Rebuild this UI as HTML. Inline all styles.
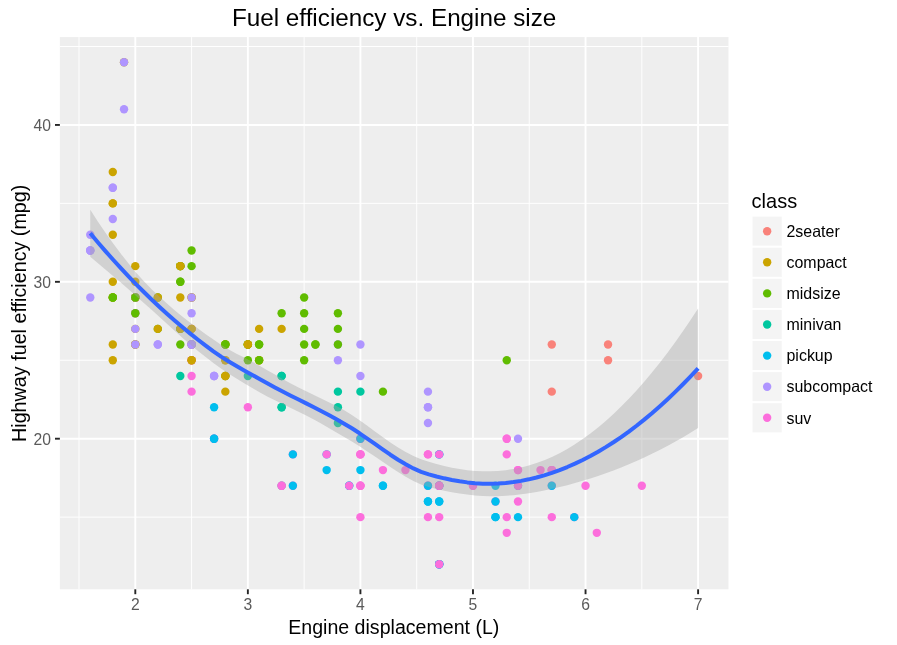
<!DOCTYPE html>
<html><head><meta charset="utf-8"><style>
html,body{margin:0;padding:0;background:#fff;overflow:hidden;}
svg{display:block;will-change:transform;}
text{font-family:"Liberation Sans",sans-serif;}
</style></head><body>
<svg width="897" height="645" viewBox="0 0 897 645">
<rect x="0" y="0" width="897" height="645" fill="#FFFFFF"/>
<rect x="59.88" y="37.09" width="668.61" height="552.22" fill="#EEEEEE"/>
<line x1="79.02" y1="37.09" x2="79.02" y2="589.30" stroke="#fff" stroke-width="0.95"/>
<line x1="191.58" y1="37.09" x2="191.58" y2="589.30" stroke="#fff" stroke-width="0.95"/>
<line x1="304.14" y1="37.09" x2="304.14" y2="589.30" stroke="#fff" stroke-width="0.95"/>
<line x1="416.70" y1="37.09" x2="416.70" y2="589.30" stroke="#fff" stroke-width="0.95"/>
<line x1="529.26" y1="37.09" x2="529.26" y2="589.30" stroke="#fff" stroke-width="0.95"/>
<line x1="641.82" y1="37.09" x2="641.82" y2="589.30" stroke="#fff" stroke-width="0.95"/>
<line x1="59.88" y1="517.14" x2="728.49" y2="517.14" stroke="#fff" stroke-width="0.95"/>
<line x1="59.88" y1="360.26" x2="728.49" y2="360.26" stroke="#fff" stroke-width="0.95"/>
<line x1="59.88" y1="203.38" x2="728.49" y2="203.38" stroke="#fff" stroke-width="0.95"/>
<line x1="59.88" y1="46.50" x2="728.49" y2="46.50" stroke="#fff" stroke-width="0.95"/>
<line x1="135.30" y1="37.09" x2="135.30" y2="589.30" stroke="#fff" stroke-width="1.9"/>
<line x1="247.86" y1="37.09" x2="247.86" y2="589.30" stroke="#fff" stroke-width="1.9"/>
<line x1="360.42" y1="37.09" x2="360.42" y2="589.30" stroke="#fff" stroke-width="1.9"/>
<line x1="472.98" y1="37.09" x2="472.98" y2="589.30" stroke="#fff" stroke-width="1.9"/>
<line x1="585.54" y1="37.09" x2="585.54" y2="589.30" stroke="#fff" stroke-width="1.9"/>
<line x1="698.10" y1="37.09" x2="698.10" y2="589.30" stroke="#fff" stroke-width="1.9"/>
<line x1="59.88" y1="438.70" x2="728.49" y2="438.70" stroke="#fff" stroke-width="1.9"/>
<line x1="59.88" y1="281.82" x2="728.49" y2="281.82" stroke="#fff" stroke-width="1.9"/>
<line x1="59.88" y1="124.94" x2="728.49" y2="124.94" stroke="#fff" stroke-width="1.9"/>
<circle cx="112.79" cy="297.51" r="4.2" fill="#CBA400"/>
<circle cx="112.79" cy="297.51" r="4.2" fill="#CBA400"/>
<circle cx="135.30" cy="266.13" r="4.2" fill="#CBA400"/>
<circle cx="135.30" cy="281.82" r="4.2" fill="#CBA400"/>
<circle cx="225.35" cy="344.57" r="4.2" fill="#CBA400"/>
<circle cx="225.35" cy="344.57" r="4.2" fill="#CBA400"/>
<circle cx="259.12" cy="328.88" r="4.2" fill="#CBA400"/>
<circle cx="112.79" cy="344.57" r="4.2" fill="#CBA400"/>
<circle cx="112.79" cy="360.26" r="4.2" fill="#CBA400"/>
<circle cx="135.30" cy="313.20" r="4.2" fill="#CBA400"/>
<circle cx="135.30" cy="328.88" r="4.2" fill="#CBA400"/>
<circle cx="225.35" cy="360.26" r="4.2" fill="#CBA400"/>
<circle cx="225.35" cy="360.26" r="4.2" fill="#CBA400"/>
<circle cx="259.12" cy="360.26" r="4.2" fill="#CBA400"/>
<circle cx="259.12" cy="360.26" r="4.2" fill="#CBA400"/>
<circle cx="225.35" cy="375.95" r="4.2" fill="#60BC00"/>
<circle cx="259.12" cy="360.26" r="4.2" fill="#60BC00"/>
<circle cx="382.93" cy="391.64" r="4.2" fill="#60BC00"/>
<circle cx="506.75" cy="438.70" r="4.2" fill="#FC6EDC"/>
<circle cx="506.75" cy="517.14" r="4.2" fill="#FC6EDC"/>
<circle cx="506.75" cy="438.70" r="4.2" fill="#FC6EDC"/>
<circle cx="551.77" cy="485.76" r="4.2" fill="#FC6EDC"/>
<circle cx="585.54" cy="485.76" r="4.2" fill="#FC6EDC"/>
<circle cx="551.77" cy="344.57" r="4.2" fill="#F9827A"/>
<circle cx="551.77" cy="391.64" r="4.2" fill="#F9827A"/>
<circle cx="608.05" cy="344.57" r="4.2" fill="#F9827A"/>
<circle cx="608.05" cy="360.26" r="4.2" fill="#F9827A"/>
<circle cx="698.10" cy="375.95" r="4.2" fill="#F9827A"/>
<circle cx="506.75" cy="454.39" r="4.2" fill="#FC6EDC"/>
<circle cx="506.75" cy="532.83" r="4.2" fill="#FC6EDC"/>
<circle cx="551.77" cy="517.14" r="4.2" fill="#FC6EDC"/>
<circle cx="641.82" cy="485.76" r="4.2" fill="#FC6EDC"/>
<circle cx="180.32" cy="328.88" r="4.2" fill="#60BC00"/>
<circle cx="180.32" cy="281.82" r="4.2" fill="#60BC00"/>
<circle cx="259.12" cy="344.57" r="4.2" fill="#60BC00"/>
<circle cx="304.14" cy="297.51" r="4.2" fill="#60BC00"/>
<circle cx="315.40" cy="344.57" r="4.2" fill="#60BC00"/>
<circle cx="180.32" cy="375.95" r="4.2" fill="#00C79F"/>
<circle cx="247.86" cy="375.95" r="4.2" fill="#00C79F"/>
<circle cx="281.63" cy="407.32" r="4.2" fill="#00C79F"/>
<circle cx="281.63" cy="407.32" r="4.2" fill="#00C79F"/>
<circle cx="281.63" cy="375.95" r="4.2" fill="#00C79F"/>
<circle cx="281.63" cy="375.95" r="4.2" fill="#00C79F"/>
<circle cx="281.63" cy="485.76" r="4.2" fill="#00C79F"/>
<circle cx="337.91" cy="407.32" r="4.2" fill="#00C79F"/>
<circle cx="337.91" cy="423.01" r="4.2" fill="#00C79F"/>
<circle cx="337.91" cy="391.64" r="4.2" fill="#00C79F"/>
<circle cx="360.42" cy="391.64" r="4.2" fill="#00C79F"/>
<circle cx="326.65" cy="454.39" r="4.2" fill="#00BEEE"/>
<circle cx="326.65" cy="470.08" r="4.2" fill="#00BEEE"/>
<circle cx="349.16" cy="485.76" r="4.2" fill="#00BEEE"/>
<circle cx="349.16" cy="485.76" r="4.2" fill="#00BEEE"/>
<circle cx="439.21" cy="454.39" r="4.2" fill="#00BEEE"/>
<circle cx="439.21" cy="454.39" r="4.2" fill="#00BEEE"/>
<circle cx="439.21" cy="564.20" r="4.2" fill="#00BEEE"/>
<circle cx="495.49" cy="485.76" r="4.2" fill="#00BEEE"/>
<circle cx="495.49" cy="517.14" r="4.2" fill="#00BEEE"/>
<circle cx="349.16" cy="485.76" r="4.2" fill="#FC6EDC"/>
<circle cx="439.21" cy="485.76" r="4.2" fill="#FC6EDC"/>
<circle cx="439.21" cy="564.20" r="4.2" fill="#FC6EDC"/>
<circle cx="439.21" cy="485.76" r="4.2" fill="#FC6EDC"/>
<circle cx="495.49" cy="501.45" r="4.2" fill="#FC6EDC"/>
<circle cx="551.77" cy="470.08" r="4.2" fill="#FC6EDC"/>
<circle cx="574.28" cy="517.14" r="4.2" fill="#FC6EDC"/>
<circle cx="439.21" cy="501.45" r="4.2" fill="#00BEEE"/>
<circle cx="439.21" cy="564.20" r="4.2" fill="#00BEEE"/>
<circle cx="439.21" cy="485.76" r="4.2" fill="#00BEEE"/>
<circle cx="439.21" cy="485.76" r="4.2" fill="#00BEEE"/>
<circle cx="439.21" cy="501.45" r="4.2" fill="#00BEEE"/>
<circle cx="439.21" cy="564.20" r="4.2" fill="#00BEEE"/>
<circle cx="495.49" cy="517.14" r="4.2" fill="#00BEEE"/>
<circle cx="495.49" cy="501.45" r="4.2" fill="#00BEEE"/>
<circle cx="551.77" cy="485.76" r="4.2" fill="#00BEEE"/>
<circle cx="574.28" cy="517.14" r="4.2" fill="#00BEEE"/>
<circle cx="427.96" cy="485.76" r="4.2" fill="#FC6EDC"/>
<circle cx="427.96" cy="485.76" r="4.2" fill="#FC6EDC"/>
<circle cx="518.00" cy="470.08" r="4.2" fill="#FC6EDC"/>
<circle cx="360.42" cy="485.76" r="4.2" fill="#FC6EDC"/>
<circle cx="360.42" cy="454.39" r="4.2" fill="#FC6EDC"/>
<circle cx="360.42" cy="485.76" r="4.2" fill="#FC6EDC"/>
<circle cx="360.42" cy="454.39" r="4.2" fill="#FC6EDC"/>
<circle cx="427.96" cy="454.39" r="4.2" fill="#FC6EDC"/>
<circle cx="472.98" cy="485.76" r="4.2" fill="#FC6EDC"/>
<circle cx="382.93" cy="485.76" r="4.2" fill="#00BEEE"/>
<circle cx="382.93" cy="485.76" r="4.2" fill="#00BEEE"/>
<circle cx="427.96" cy="501.45" r="4.2" fill="#00BEEE"/>
<circle cx="427.96" cy="501.45" r="4.2" fill="#00BEEE"/>
<circle cx="427.96" cy="485.76" r="4.2" fill="#00BEEE"/>
<circle cx="518.00" cy="517.14" r="4.2" fill="#00BEEE"/>
<circle cx="518.00" cy="485.76" r="4.2" fill="#00BEEE"/>
<circle cx="337.91" cy="344.57" r="4.2" fill="#AF95FF"/>
<circle cx="337.91" cy="360.26" r="4.2" fill="#AF95FF"/>
<circle cx="360.42" cy="344.57" r="4.2" fill="#AF95FF"/>
<circle cx="360.42" cy="375.95" r="4.2" fill="#AF95FF"/>
<circle cx="427.96" cy="423.01" r="4.2" fill="#AF95FF"/>
<circle cx="427.96" cy="407.32" r="4.2" fill="#AF95FF"/>
<circle cx="427.96" cy="391.64" r="4.2" fill="#AF95FF"/>
<circle cx="427.96" cy="407.32" r="4.2" fill="#AF95FF"/>
<circle cx="518.00" cy="438.70" r="4.2" fill="#AF95FF"/>
<circle cx="90.28" cy="234.76" r="4.2" fill="#AF95FF"/>
<circle cx="90.28" cy="250.44" r="4.2" fill="#AF95FF"/>
<circle cx="90.28" cy="250.44" r="4.2" fill="#AF95FF"/>
<circle cx="90.28" cy="297.51" r="4.2" fill="#AF95FF"/>
<circle cx="90.28" cy="250.44" r="4.2" fill="#AF95FF"/>
<circle cx="112.79" cy="219.07" r="4.2" fill="#AF95FF"/>
<circle cx="112.79" cy="187.69" r="4.2" fill="#AF95FF"/>
<circle cx="112.79" cy="187.69" r="4.2" fill="#AF95FF"/>
<circle cx="135.30" cy="297.51" r="4.2" fill="#AF95FF"/>
<circle cx="180.32" cy="344.57" r="4.2" fill="#60BC00"/>
<circle cx="180.32" cy="328.88" r="4.2" fill="#60BC00"/>
<circle cx="180.32" cy="281.82" r="4.2" fill="#60BC00"/>
<circle cx="180.32" cy="266.13" r="4.2" fill="#60BC00"/>
<circle cx="191.58" cy="344.57" r="4.2" fill="#60BC00"/>
<circle cx="191.58" cy="344.57" r="4.2" fill="#60BC00"/>
<circle cx="281.63" cy="313.20" r="4.2" fill="#60BC00"/>
<circle cx="135.30" cy="344.57" r="4.2" fill="#AF95FF"/>
<circle cx="135.30" cy="297.51" r="4.2" fill="#AF95FF"/>
<circle cx="135.30" cy="313.20" r="4.2" fill="#AF95FF"/>
<circle cx="135.30" cy="328.88" r="4.2" fill="#AF95FF"/>
<circle cx="214.09" cy="375.95" r="4.2" fill="#AF95FF"/>
<circle cx="214.09" cy="375.95" r="4.2" fill="#AF95FF"/>
<circle cx="214.09" cy="375.95" r="4.2" fill="#AF95FF"/>
<circle cx="247.86" cy="407.32" r="4.2" fill="#FC6EDC"/>
<circle cx="326.65" cy="454.39" r="4.2" fill="#FC6EDC"/>
<circle cx="360.42" cy="438.70" r="4.2" fill="#FC6EDC"/>
<circle cx="439.21" cy="485.76" r="4.2" fill="#FC6EDC"/>
<circle cx="439.21" cy="564.20" r="4.2" fill="#FC6EDC"/>
<circle cx="439.21" cy="454.39" r="4.2" fill="#FC6EDC"/>
<circle cx="551.77" cy="470.08" r="4.2" fill="#FC6EDC"/>
<circle cx="596.80" cy="532.83" r="4.2" fill="#FC6EDC"/>
<circle cx="360.42" cy="517.14" r="4.2" fill="#FC6EDC"/>
<circle cx="382.93" cy="470.08" r="4.2" fill="#FC6EDC"/>
<circle cx="405.44" cy="470.08" r="4.2" fill="#FC6EDC"/>
<circle cx="427.96" cy="517.14" r="4.2" fill="#FC6EDC"/>
<circle cx="518.00" cy="485.76" r="4.2" fill="#FC6EDC"/>
<circle cx="518.00" cy="501.45" r="4.2" fill="#FC6EDC"/>
<circle cx="518.00" cy="470.08" r="4.2" fill="#FC6EDC"/>
<circle cx="360.42" cy="485.76" r="4.2" fill="#FC6EDC"/>
<circle cx="360.42" cy="454.39" r="4.2" fill="#FC6EDC"/>
<circle cx="427.96" cy="454.39" r="4.2" fill="#FC6EDC"/>
<circle cx="472.98" cy="485.76" r="4.2" fill="#FC6EDC"/>
<circle cx="180.32" cy="297.51" r="4.2" fill="#CBA400"/>
<circle cx="180.32" cy="328.88" r="4.2" fill="#CBA400"/>
<circle cx="191.58" cy="266.13" r="4.2" fill="#60BC00"/>
<circle cx="191.58" cy="250.44" r="4.2" fill="#60BC00"/>
<circle cx="304.14" cy="328.88" r="4.2" fill="#60BC00"/>
<circle cx="304.14" cy="344.57" r="4.2" fill="#60BC00"/>
<circle cx="247.86" cy="344.57" r="4.2" fill="#60BC00"/>
<circle cx="247.86" cy="360.26" r="4.2" fill="#60BC00"/>
<circle cx="304.14" cy="360.26" r="4.2" fill="#60BC00"/>
<circle cx="281.63" cy="485.76" r="4.2" fill="#FC6EDC"/>
<circle cx="281.63" cy="485.76" r="4.2" fill="#FC6EDC"/>
<circle cx="360.42" cy="438.70" r="4.2" fill="#FC6EDC"/>
<circle cx="540.52" cy="470.08" r="4.2" fill="#FC6EDC"/>
<circle cx="259.12" cy="344.57" r="4.2" fill="#60BC00"/>
<circle cx="337.91" cy="344.57" r="4.2" fill="#60BC00"/>
<circle cx="337.91" cy="328.88" r="4.2" fill="#60BC00"/>
<circle cx="337.91" cy="313.20" r="4.2" fill="#60BC00"/>
<circle cx="506.75" cy="360.26" r="4.2" fill="#60BC00"/>
<circle cx="191.58" cy="360.26" r="4.2" fill="#FC6EDC"/>
<circle cx="191.58" cy="375.95" r="4.2" fill="#FC6EDC"/>
<circle cx="191.58" cy="328.88" r="4.2" fill="#FC6EDC"/>
<circle cx="191.58" cy="360.26" r="4.2" fill="#FC6EDC"/>
<circle cx="191.58" cy="344.57" r="4.2" fill="#FC6EDC"/>
<circle cx="191.58" cy="391.64" r="4.2" fill="#FC6EDC"/>
<circle cx="157.81" cy="344.57" r="4.2" fill="#AF95FF"/>
<circle cx="157.81" cy="344.57" r="4.2" fill="#AF95FF"/>
<circle cx="191.58" cy="344.57" r="4.2" fill="#AF95FF"/>
<circle cx="191.58" cy="344.57" r="4.2" fill="#AF95FF"/>
<circle cx="191.58" cy="360.26" r="4.2" fill="#CBA400"/>
<circle cx="191.58" cy="328.88" r="4.2" fill="#CBA400"/>
<circle cx="191.58" cy="360.26" r="4.2" fill="#CBA400"/>
<circle cx="191.58" cy="328.88" r="4.2" fill="#CBA400"/>
<circle cx="214.09" cy="438.70" r="4.2" fill="#FC6EDC"/>
<circle cx="214.09" cy="438.70" r="4.2" fill="#FC6EDC"/>
<circle cx="292.88" cy="454.39" r="4.2" fill="#FC6EDC"/>
<circle cx="292.88" cy="485.76" r="4.2" fill="#FC6EDC"/>
<circle cx="360.42" cy="438.70" r="4.2" fill="#FC6EDC"/>
<circle cx="439.21" cy="485.76" r="4.2" fill="#FC6EDC"/>
<circle cx="157.81" cy="297.51" r="4.2" fill="#60BC00"/>
<circle cx="157.81" cy="328.88" r="4.2" fill="#60BC00"/>
<circle cx="180.32" cy="266.13" r="4.2" fill="#60BC00"/>
<circle cx="180.32" cy="266.13" r="4.2" fill="#60BC00"/>
<circle cx="247.86" cy="344.57" r="4.2" fill="#60BC00"/>
<circle cx="247.86" cy="344.57" r="4.2" fill="#60BC00"/>
<circle cx="304.14" cy="313.20" r="4.2" fill="#60BC00"/>
<circle cx="157.81" cy="328.88" r="4.2" fill="#CBA400"/>
<circle cx="157.81" cy="297.51" r="4.2" fill="#CBA400"/>
<circle cx="180.32" cy="266.13" r="4.2" fill="#CBA400"/>
<circle cx="180.32" cy="266.13" r="4.2" fill="#CBA400"/>
<circle cx="247.86" cy="344.57" r="4.2" fill="#CBA400"/>
<circle cx="247.86" cy="344.57" r="4.2" fill="#CBA400"/>
<circle cx="281.63" cy="328.88" r="4.2" fill="#CBA400"/>
<circle cx="112.79" cy="281.82" r="4.2" fill="#CBA400"/>
<circle cx="112.79" cy="234.76" r="4.2" fill="#CBA400"/>
<circle cx="112.79" cy="203.38" r="4.2" fill="#CBA400"/>
<circle cx="112.79" cy="172.00" r="4.2" fill="#CBA400"/>
<circle cx="112.79" cy="203.38" r="4.2" fill="#CBA400"/>
<circle cx="439.21" cy="517.14" r="4.2" fill="#FC6EDC"/>
<circle cx="551.77" cy="470.08" r="4.2" fill="#FC6EDC"/>
<circle cx="214.09" cy="438.70" r="4.2" fill="#00BEEE"/>
<circle cx="214.09" cy="438.70" r="4.2" fill="#00BEEE"/>
<circle cx="214.09" cy="407.32" r="4.2" fill="#00BEEE"/>
<circle cx="292.88" cy="485.76" r="4.2" fill="#00BEEE"/>
<circle cx="292.88" cy="454.39" r="4.2" fill="#00BEEE"/>
<circle cx="360.42" cy="470.08" r="4.2" fill="#00BEEE"/>
<circle cx="360.42" cy="438.70" r="4.2" fill="#00BEEE"/>
<circle cx="135.30" cy="297.51" r="4.2" fill="#CBA400"/>
<circle cx="135.30" cy="344.57" r="4.2" fill="#CBA400"/>
<circle cx="135.30" cy="297.51" r="4.2" fill="#CBA400"/>
<circle cx="135.30" cy="297.51" r="4.2" fill="#CBA400"/>
<circle cx="225.35" cy="375.95" r="4.2" fill="#CBA400"/>
<circle cx="124.04" cy="62.19" r="4.2" fill="#CBA400"/>
<circle cx="135.30" cy="297.51" r="4.2" fill="#CBA400"/>
<circle cx="135.30" cy="344.57" r="4.2" fill="#CBA400"/>
<circle cx="135.30" cy="297.51" r="4.2" fill="#CBA400"/>
<circle cx="135.30" cy="297.51" r="4.2" fill="#CBA400"/>
<circle cx="191.58" cy="297.51" r="4.2" fill="#CBA400"/>
<circle cx="191.58" cy="297.51" r="4.2" fill="#CBA400"/>
<circle cx="225.35" cy="391.64" r="4.2" fill="#CBA400"/>
<circle cx="225.35" cy="375.95" r="4.2" fill="#CBA400"/>
<circle cx="124.04" cy="62.19" r="4.2" fill="#AF95FF"/>
<circle cx="124.04" cy="109.25" r="4.2" fill="#AF95FF"/>
<circle cx="135.30" cy="297.51" r="4.2" fill="#AF95FF"/>
<circle cx="135.30" cy="344.57" r="4.2" fill="#AF95FF"/>
<circle cx="191.58" cy="313.20" r="4.2" fill="#AF95FF"/>
<circle cx="191.58" cy="297.51" r="4.2" fill="#AF95FF"/>
<circle cx="112.79" cy="297.51" r="4.2" fill="#60BC00"/>
<circle cx="112.79" cy="297.51" r="4.2" fill="#60BC00"/>
<circle cx="135.30" cy="313.20" r="4.2" fill="#60BC00"/>
<circle cx="135.30" cy="297.51" r="4.2" fill="#60BC00"/>
<circle cx="225.35" cy="344.57" r="4.2" fill="#60BC00"/>
<circle cx="225.35" cy="344.57" r="4.2" fill="#60BC00"/>
<circle cx="315.40" cy="344.57" r="4.2" fill="#60BC00"/>
<polygon points="90.28,209.82 97.97,221.63 105.66,232.98 113.36,243.81 121.05,254.08 128.75,263.76 136.44,272.88 144.13,281.41 151.83,289.38 159.52,296.83 167.22,303.83 174.91,310.46 182.60,316.78 190.30,322.80 197.99,328.57 205.69,334.13 213.38,339.57 221.07,344.74 228.77,349.42 236.46,353.66 244.16,357.60 251.85,361.52 259.54,365.73 267.24,370.18 274.93,374.61 282.63,378.96 290.32,383.17 298.01,387.21 305.71,391.07 313.40,394.80 321.10,398.47 328.79,402.19 336.48,406.11 344.18,410.35 351.87,415.03 359.57,420.22 367.26,425.77 374.95,431.45 382.65,437.07 390.34,442.45 398.03,447.45 405.73,451.97 413.42,455.91 421.12,459.21 428.81,461.80 436.50,463.97 444.20,465.93 451.89,467.64 459.59,469.06 467.28,470.17 474.97,470.93 482.67,471.34 490.36,471.36 498.06,470.99 505.75,470.21 513.44,469.02 521.14,467.43 528.83,465.44 536.53,463.03 544.22,460.18 551.91,456.88 559.61,453.13 567.30,448.92 575.00,444.25 582.69,439.12 590.38,433.53 598.08,427.47 605.77,420.96 613.47,414.00 621.16,406.59 628.85,398.74 636.55,390.45 644.24,381.72 651.94,372.55 659.63,362.96 667.32,352.93 675.02,342.49 682.71,331.62 690.41,320.33 698.10,308.62 698.10,428.05 690.41,432.81 682.71,437.39 675.02,441.78 667.32,445.98 659.63,450.00 651.94,453.85 644.24,457.51 636.55,461.01 628.85,464.33 621.16,467.49 613.47,470.48 605.77,473.31 598.08,475.98 590.38,478.50 582.69,480.87 575.00,483.09 567.30,485.16 559.61,487.08 551.91,488.86 544.22,490.47 536.53,491.92 528.83,493.19 521.14,494.28 513.44,495.15 505.75,495.81 498.06,496.17 490.36,496.22 482.67,495.96 474.97,495.41 467.28,494.61 459.59,493.55 451.89,492.25 444.20,490.71 436.50,488.95 428.81,486.94 421.12,484.38 413.42,480.91 405.73,476.71 398.03,472.00 390.34,466.96 382.65,461.76 374.95,456.54 367.26,451.38 359.57,446.37 351.87,441.58 344.18,436.99 336.48,432.44 328.79,427.94 321.10,423.54 313.40,419.30 305.71,415.25 298.01,411.39 290.32,407.68 282.63,404.04 274.93,400.35 267.24,396.47 259.54,392.27 251.85,387.78 244.16,383.16 236.46,378.47 228.77,373.67 221.07,368.59 213.38,363.00 205.69,357.03 197.99,350.88 190.30,344.51 182.60,337.89 174.91,331.03 167.22,324.07 159.52,317.07 151.83,310.08 144.13,303.15 136.44,296.29 128.75,289.53 121.05,282.87 113.36,276.27 105.66,269.73 97.97,263.23 90.28,256.77" fill="#A4A4A4" fill-opacity="0.4"/>
<polyline points="90.28,233.30 97.97,242.43 105.66,251.35 113.36,260.04 121.05,268.47 128.75,276.64 136.44,284.58 144.13,292.28 151.83,299.73 159.52,306.95 167.22,313.95 174.91,320.74 182.60,327.33 190.30,333.66 197.99,339.72 205.69,345.58 213.38,351.28 221.07,356.66 228.77,361.54 236.46,366.07 244.16,370.38 251.85,374.65 259.54,379.00 267.24,383.33 274.93,387.48 282.63,391.50 290.32,395.43 298.01,399.30 305.71,403.16 313.40,407.05 321.10,411.00 328.79,415.07 336.48,419.27 344.18,423.67 351.87,428.30 359.57,433.30 367.26,438.57 374.95,443.99 382.65,449.42 390.34,454.71 398.03,459.73 405.73,464.34 413.42,468.41 421.12,471.80 428.81,474.37 436.50,476.46 444.20,478.32 451.89,479.94 459.59,481.30 467.28,482.39 474.97,483.17 482.67,483.65 490.36,483.79 498.06,483.58 505.75,483.01 513.44,482.09 521.14,480.85 528.83,479.32 536.53,477.47 544.22,475.32 551.91,472.87 559.61,470.11 567.30,467.04 575.00,463.67 582.69,459.99 590.38,456.01 598.08,451.73 605.77,447.13 613.47,442.24 621.16,437.04 628.85,431.54 636.55,425.73 644.24,419.62 651.94,413.20 659.63,406.48 667.32,399.46 675.02,392.13 682.71,384.50 690.41,376.57 698.10,368.34" fill="none" stroke="#3366FF" stroke-width="4.0" stroke-linejoin="round" stroke-linecap="butt"/>
<line x1="135.30" y1="589.30" x2="135.30" y2="594.20" stroke="#262626" stroke-width="1.9"/>
<text transform="translate(135.30 610.15) scale(1.0 1.05)" font-size="15.7" fill="#5A5A5A" text-anchor="middle">2</text>
<line x1="247.86" y1="589.30" x2="247.86" y2="594.20" stroke="#262626" stroke-width="1.9"/>
<text transform="translate(247.86 610.15) scale(1.0 1.05)" font-size="15.7" fill="#5A5A5A" text-anchor="middle">3</text>
<line x1="360.42" y1="589.30" x2="360.42" y2="594.20" stroke="#262626" stroke-width="1.9"/>
<text transform="translate(360.42 610.15) scale(1.0 1.05)" font-size="15.7" fill="#5A5A5A" text-anchor="middle">4</text>
<line x1="472.98" y1="589.30" x2="472.98" y2="594.20" stroke="#262626" stroke-width="1.9"/>
<text transform="translate(472.98 610.15) scale(1.0 1.05)" font-size="15.7" fill="#5A5A5A" text-anchor="middle">5</text>
<line x1="585.54" y1="589.30" x2="585.54" y2="594.20" stroke="#262626" stroke-width="1.9"/>
<text transform="translate(585.54 610.15) scale(1.0 1.05)" font-size="15.7" fill="#5A5A5A" text-anchor="middle">6</text>
<line x1="698.10" y1="589.30" x2="698.10" y2="594.20" stroke="#262626" stroke-width="1.9"/>
<text transform="translate(698.10 610.15) scale(1.0 1.05)" font-size="15.7" fill="#5A5A5A" text-anchor="middle">7</text>
<line x1="54.98" y1="438.70" x2="59.88" y2="438.70" stroke="#262626" stroke-width="1.9"/>
<text transform="translate(51.00 444.60) scale(1.0 1.02)" font-size="15.7" fill="#5A5A5A" text-anchor="end">20</text>
<line x1="54.98" y1="281.82" x2="59.88" y2="281.82" stroke="#262626" stroke-width="1.9"/>
<text transform="translate(51.00 287.72) scale(1.0 1.02)" font-size="15.7" fill="#5A5A5A" text-anchor="end">30</text>
<line x1="54.98" y1="124.94" x2="59.88" y2="124.94" stroke="#262626" stroke-width="1.9"/>
<text transform="translate(51.00 130.84) scale(1.0 1.02)" font-size="15.7" fill="#5A5A5A" text-anchor="end">40</text>
<text transform="translate(394.14 25.60) scale(1.0 1.0)" font-size="24.25" fill="#000" text-anchor="middle">Fuel efficiency vs. Engine size</text>
<text transform="translate(393.79 633.80) scale(1.0 1.02)" font-size="19.6" fill="#000" text-anchor="middle">Engine displacement (L)</text>
<text transform="translate(25.60 313.30) rotate(-90) scale(1.0 1.05)" font-size="19.75" fill="#000" text-anchor="middle">Highway fuel efficiency (mpg)</text>
<text transform="translate(751.60 207.60) scale(1.0 1.02)" font-size="20.0" fill="#000" text-anchor="start">class</text>
<rect x="751.6" y="215.65" width="31.10" height="31.10" fill="#F4F4F4" stroke="#fff" stroke-width="1.9"/>
<circle cx="767.15" cy="231.20" r="4.2" fill="#F9827A"/>
<text transform="translate(786.50 236.95) scale(1.0 1.02)" font-size="15.95" fill="#000" text-anchor="start">2seater</text>
<rect x="751.6" y="246.75" width="31.10" height="31.10" fill="#F4F4F4" stroke="#fff" stroke-width="1.9"/>
<circle cx="767.15" cy="262.30" r="4.2" fill="#CBA400"/>
<text transform="translate(786.50 268.05) scale(1.0 1.02)" font-size="15.95" fill="#000" text-anchor="start">compact</text>
<rect x="751.6" y="277.85" width="31.10" height="31.10" fill="#F4F4F4" stroke="#fff" stroke-width="1.9"/>
<circle cx="767.15" cy="293.40" r="4.2" fill="#60BC00"/>
<text transform="translate(786.50 299.15) scale(1.0 1.02)" font-size="15.95" fill="#000" text-anchor="start">midsize</text>
<rect x="751.6" y="308.95" width="31.10" height="31.10" fill="#F4F4F4" stroke="#fff" stroke-width="1.9"/>
<circle cx="767.15" cy="324.50" r="4.2" fill="#00C79F"/>
<text transform="translate(786.50 330.25) scale(1.0 1.02)" font-size="15.95" fill="#000" text-anchor="start">minivan</text>
<rect x="751.6" y="340.05" width="31.10" height="31.10" fill="#F4F4F4" stroke="#fff" stroke-width="1.9"/>
<circle cx="767.15" cy="355.60" r="4.2" fill="#00BEEE"/>
<text transform="translate(786.50 361.35) scale(1.0 1.02)" font-size="15.95" fill="#000" text-anchor="start">pickup</text>
<rect x="751.6" y="371.15" width="31.10" height="31.10" fill="#F4F4F4" stroke="#fff" stroke-width="1.9"/>
<circle cx="767.15" cy="386.70" r="4.2" fill="#AF95FF"/>
<text transform="translate(786.50 392.45) scale(1.0 1.02)" font-size="15.95" fill="#000" text-anchor="start">subcompact</text>
<rect x="751.6" y="402.25" width="31.10" height="31.10" fill="#F4F4F4" stroke="#fff" stroke-width="1.9"/>
<circle cx="767.15" cy="417.80" r="4.2" fill="#FC6EDC"/>
<text transform="translate(786.50 423.55) scale(1.0 1.02)" font-size="15.95" fill="#000" text-anchor="start">suv</text>
</svg></body></html>
